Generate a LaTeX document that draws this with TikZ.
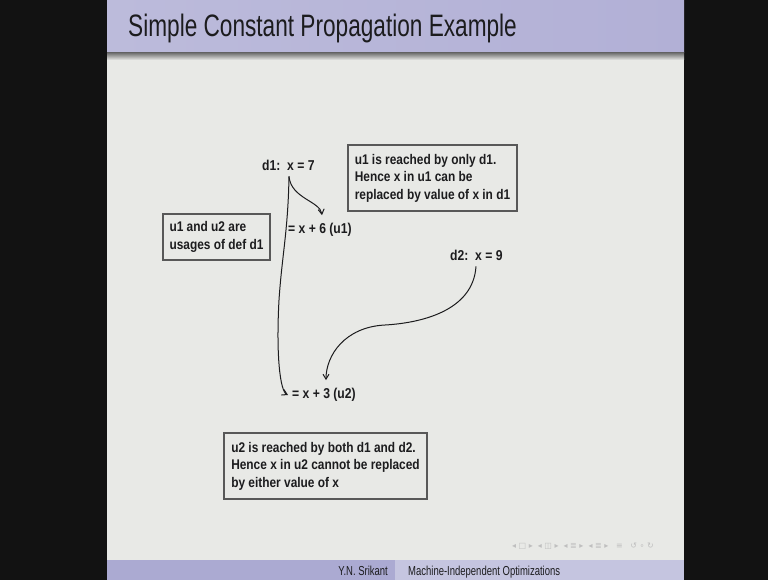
\documentclass[tikz,border=0pt]{standalone}
\usepackage{fontspec}
\setmainfont{Liberation Sans}
\newfontfamily\titlefont{Liberation Sans}[FakeStretch=0.73]
\newfontfamily\bodyfont{Liberation Sans Bold}[FakeStretch=0.85]
\newfontfamily\navfont{DejaVu Sans}
\usetikzlibrary{arrows.meta,calc}

\definecolor{slidebg}{RGB}{232,233,230}
\definecolor{barlav}{RGB}{188,187,219}
\definecolor{barlavr}{RGB}{178,176,214}
\definecolor{footl}{RGB}{171,170,210}
\definecolor{footr}{RGB}{197,197,224}
\definecolor{ink}{RGB}{28,28,30}
\definecolor{boxline}{RGB}{88,88,88}

\tikzset{
  stmt/.style={inner sep=0pt, text=ink, font=\bodyfont\fontsize{14.3}{17.5}\selectfont},
  note/.style={draw=boxline, line width=1.1pt, align=left, inner sep=2pt,
    text=ink, font=\bodyfont\fontsize{14}{17.5}\selectfont},
  flow/.style={draw=ink, line width=1pt, -{Straight Barb[length=5pt,width=6pt]}},
  foot/.style={inner sep=0pt, text=ink, font=\titlefont\fontsize{13}{13}\selectfont}
}

\begin{document}
\begin{tikzpicture}[x=1pt,y=-1pt]
\useasboundingbox (0,0) rectangle (768,580);
% frame of the slide
\fill[black!93] (0,0) rectangle (768,580);
\fill[slidebg] (107,0) rectangle (684,580);
\shade[left color=barlav, right color=barlavr] (107,0) rectangle (684,53);
\shade[top color=black!55, bottom color=slidebg] (107,53) rectangle (684,60);
\fill[footl] (107,560) rectangle (395,580);
\fill[footr] (395,560) rectangle (684,580);

\node[anchor=base west, inner sep=0pt, text=ink, font=\titlefont\fontsize{31}{31}\selectfont]
  (title) at (128,37) {Simple Constant Propagation Example};

% definitions and uses
\node[stmt, anchor=west] (d1) at (262,165) {d1:\ \ x = 7};
\node[stmt, anchor=west] (u1) at (288,230) {= x + 6 (u1)};
\node[stmt, anchor=west] (d2) at (450,255) {d2:\ \ x = 9};
\node[stmt, anchor=west] (u2) at (292,395) {= x + 3 (u2)};

% remarks
\node[note, minimum width=169pt, minimum height=66pt] (r1) at (432.5,178)
  {u1 is reached by only d1.\\ Hence x in u1 can be\\ replaced by value of x in d1};
\node[note, minimum width=107pt, minimum height=46pt] (r2) at (216.5,237)
  {u1 and u2 are\\ usages of def d1};
\node[note, minimum width=203pt, minimum height=66pt] (r3) at (325.5,466)
  {u2 is reached by both d1 and d2.\\ Hence x in u2 cannot be replaced\\ by either value of x};

% reaching definitions
\draw[flow] ([xshift=27pt,yshift=-6pt]d1.south west) .. controls +(2,22) and +(-2,-14) ..
  ([xshift=34pt,yshift=8pt]u1.north west);
\draw[flow] ([xshift=27pt,yshift=-6pt]d1.south west) .. controls +(-1,55) and +(3,-45) .. (279,300)
  .. controls +(-3,55) and +(-8,-4) .. ([xshift=-4pt]u2.west);
\draw[flow] ([xshift=26pt,yshift=-6pt]d2.south west) .. controls +(-3,45) and +(35,-2) .. (385,325)
  .. controls +(-40,2) and +(0,-25) .. ([xshift=34pt,yshift=8pt]u2.north west);

% footer
\node[foot, anchor=base east] (author) at (388,575) {Y.N. Srikant};
\node[foot, anchor=base west] (talk) at (408,575) {Machine-Independent Optimizations};
\node[inner sep=0pt, text=black!25, font=\navfont\fontsize{8}{8}\selectfont] (nav) at (583,546)
  {◂ □ ▸ \ ◂ ◫ ▸ \ ◂ ≣ ▸ \ ◂ ≣ ▸ \ \ ≡ \ \ ↺ ∘ ↻};
\end{tikzpicture}
\end{document}
